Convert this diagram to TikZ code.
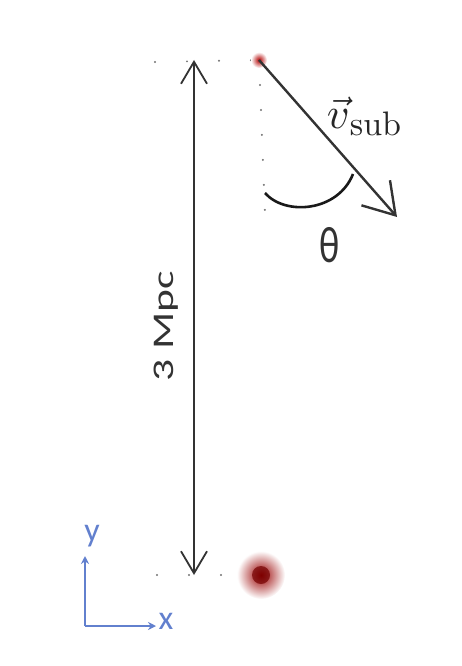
\documentclass[tikz,border=0pt]{standalone}
\usepackage[no-math]{fontspec}
\setmainfont{Carlito}
\newfontfamily\lmfont{Latin Modern Roman}
\usetikzlibrary{arrows.meta,positioning}
\definecolor{axisblue}{RGB}{98,128,206}
\begin{document}
\begin{tikzpicture}[x=1pt,y=-1pt,
  guide/.style={black!55, line width=2.2pt, line cap=round, dash pattern=on 0pt off 32pt},
  vguide/.style={black!55, line width=2.2pt, line cap=round, dash pattern=on 0pt off 25pt},
  scale bar/.style={black!80, line width=1.8pt, {Straight Barb[length=22pt,width=26pt]}-{Straight Barb[length=22pt,width=26pt]}},
  velocity/.style={black!80, line width=2.4pt, -{Straight Barb[length=30pt,width=38pt]}},
  axis/.style={axisblue, line width=2pt, -{Stealth[length=8pt,width=8pt]}},
  axislabel/.style={text=axisblue, font=\fontsize{34}{36}\selectfont, inner sep=0pt}]
  \useasboundingbox (0,0) rectangle (462,666);
  % points
  \coordinate (top) at (194,60);
  \coordinate (bot) at (194,575);
  \coordinate (sub) at (259,60);
  \coordinate (host) at (261,575);
  \coordinate (vend) at (397,217);
  \coordinate (vdown) at (265,215);
  % guide lines
  \draw[guide] (155,62) -- (sub);
  \draw[guide] (157,575) -- (host);
  \draw[vguide] (sub) -- (vdown);
  % halos
  \shade[inner color=red!60!black, outer color=white] (host) circle (24);
  \fill[red!45!black, opacity=0.7] (host) circle (9);
  \shade[inner color=red!70!black, outer color=white] (sub) circle (8);
  % scale bar
  \draw[scale bar] (top) -- (bot);
  \node (dist) [rotate=90, font=\fontsize{30}{34}\selectfont, text=black!80] at (166,326) {\scalebox{1.45}[1]{3 Mpc}};
  % velocity
  \draw[velocity] (sub) -- (vend);
  \node (vlabel) [inner sep=0pt, text=black!85] at (364,116) {\scalebox{4.4}{$\vec{v}$}\raisebox{-7pt}{\scalebox{3.4}{\lmfont sub}}};
  \draw[black!90, line width=2.6pt] (265,193) .. controls (285,216) and (338,212) .. (353,174);
  \node (theta) [inner sep=0pt, text=black!80] at (330,245) {\scalebox{1}[1.35]{\fontsize{38}{40}\selectfont θ}};
  % axes
  \coordinate (origin) at (85,626);
  \draw[axis] (origin) -- (85,556);
  \draw[axis] (origin) -- (156,626);
  \node (ylabel) [axislabel] at (92,536) {y};
  \node (xlabel) [axislabel] at (166,621) {x};
\end{tikzpicture}
\end{document}
